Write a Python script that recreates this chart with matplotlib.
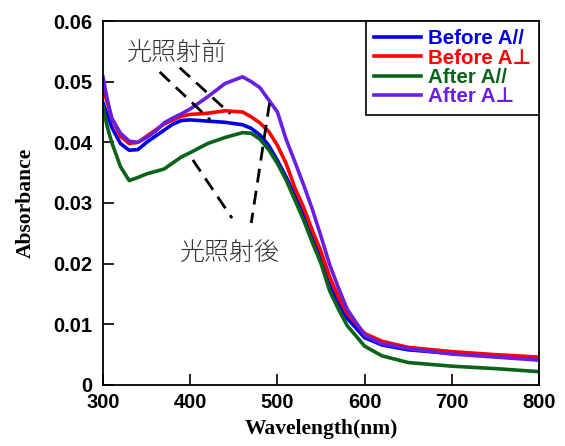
import numpy as np
import matplotlib
matplotlib.use("Agg")
import matplotlib.pyplot as plt

# wavelength (nm) and absorbance
wl = [300, 305, 310, 320, 330, 340, 350, 360, 370, 380, 390, 400, 420, 440, 460,
      470, 480, 490, 500, 510, 520, 530, 540, 550, 560, 570, 580, 600, 620, 650,
      700, 750, 800]

before_par = [0.0465, 0.0445, 0.0425, 0.0398, 0.0387, 0.0388, 0.0400, 0.0410, 0.0420,
              0.0430, 0.0436, 0.0437, 0.0435, 0.0433, 0.0429, 0.0423, 0.0412, 0.0395,
              0.0370, 0.0343, 0.0312, 0.0280, 0.0245, 0.0210, 0.0165, 0.0135, 0.0110,
              0.0078, 0.0066, 0.0058, 0.0052, 0.0047, 0.0042]

before_perp = [0.0490, 0.0465, 0.0440, 0.0410, 0.0398, 0.0400, 0.0410, 0.0420, 0.0430,
               0.0437, 0.0443, 0.0446, 0.0448, 0.0452, 0.0450, 0.0442, 0.0432, 0.0418,
               0.0395, 0.0365, 0.0325, 0.0293, 0.0255, 0.0220, 0.0178, 0.0145, 0.0118,
               0.0085, 0.0072, 0.0062, 0.0055, 0.0050, 0.0046]

after_par = [0.0458, 0.0425, 0.0400, 0.0360, 0.0337, 0.0342, 0.0348, 0.0352, 0.0356,
             0.0366, 0.0376, 0.0383, 0.0398, 0.0408, 0.0416, 0.0415, 0.0405, 0.0388,
             0.0365, 0.0338, 0.0305, 0.0272, 0.0235, 0.0200, 0.0155, 0.0125, 0.0098,
             0.0064, 0.0048, 0.0037, 0.0031, 0.0027, 0.0022]

after_perp = [0.0508, 0.0470, 0.0440, 0.0415, 0.0402, 0.0400, 0.0408, 0.0418, 0.0432,
              0.0440, 0.0447, 0.0455, 0.0475, 0.0497, 0.0508, 0.0500, 0.0490, 0.0470,
              0.0450, 0.0405, 0.0368, 0.0330, 0.0290, 0.0245, 0.0198, 0.0160, 0.0125,
              0.0082, 0.0068, 0.0060, 0.0051, 0.0046, 0.0041]

labels = ["Before A//", "Before A\u22a5", "After A//", "After A\u22a5"]
colors = ["#0000e6", "#ff0000", "#0a6418", "#6a1ee0"]

# dashed pointer lines (x0, x1), (y0, y1)
pointer_before = [((365, 423), (0.0516, 0.0437)), ((388, 446), (0.0523, 0.0447))]
pointer_after = [((403, 448), (0.0371, 0.0275)), ((491, 470), (0.0465, 0.0267))]

fig = plt.figure(figsize=(5.65, 4.46), dpi=100)
ax = fig.add_axes([0.1823, 0.1368, 0.7717, 0.8161])

series = [before_par, before_perp, after_par, after_perp]
for y, lab, c in zip(series, labels, colors):
    ax.plot(wl, y, color=c, lw=2.6, label=lab)

for (xs, ys) in pointer_before + pointer_after:
    ax.plot(xs, ys, color="black", lw=2.0, ls=(0, (5, 3)))

cjk = ["Noto Sans CJK JP", "DejaVu Sans"]
ax.text(385, 0.0547, "光照射前", family=cjk, fontsize=18, color="#333333",
        ha="center", va="center", fontweight="light")
ax.text(446, 0.0218, "光照射後", family=cjk, fontsize=18, color="#333333",
        ha="center", va="center", fontweight="light")

ax.set_xlim(300, 800)
ax.set_ylim(0, 0.06)
ax.set_xticks([300, 400, 500, 600, 700, 800])
ax.set_yticks([0, 0.01, 0.02, 0.03, 0.04, 0.05, 0.06])
ax.set_yticklabels(["0", "0.01", "0.02", "0.03", "0.04", "0.05", "0.06"])
ax.tick_params(direction="in", length=8, width=1.2)
ax.tick_params(axis="y", pad=8)
ax.tick_params(axis="x", pad=6)
for t in ax.get_xticklabels() + ax.get_yticklabels():
    t.set_family(["Liberation Sans", "DejaVu Sans"])
    t.set_fontweight("bold")
    t.set_fontsize(14.5)
for s in ax.spines.values():
    s.set_linewidth(1.3)

ax.set_xlabel("Wavelength(nm)", family="Liberation Serif", fontweight="bold",
              fontsize=15.5, labelpad=5)
ax.set_ylabel("Absorbance", family="Liberation Serif", fontweight="bold",
              fontsize=15.5, labelpad=12)

leg = ax.legend(loc="upper right", borderaxespad=0, fancybox=False,
                edgecolor="black", framealpha=1, handlelength=2.3,
                labelspacing=0.02, handletextpad=0.3, borderpad=0.4,
                prop={"family": ["Liberation Sans", "DejaVu Sans"],
                      "weight": "bold", "size": 14.8})
leg.get_frame().set_linewidth(1.2)
for t, c in zip(leg.get_texts(), colors):
    t.set_color(c)

fig.savefig("out.png", dpi=100)
